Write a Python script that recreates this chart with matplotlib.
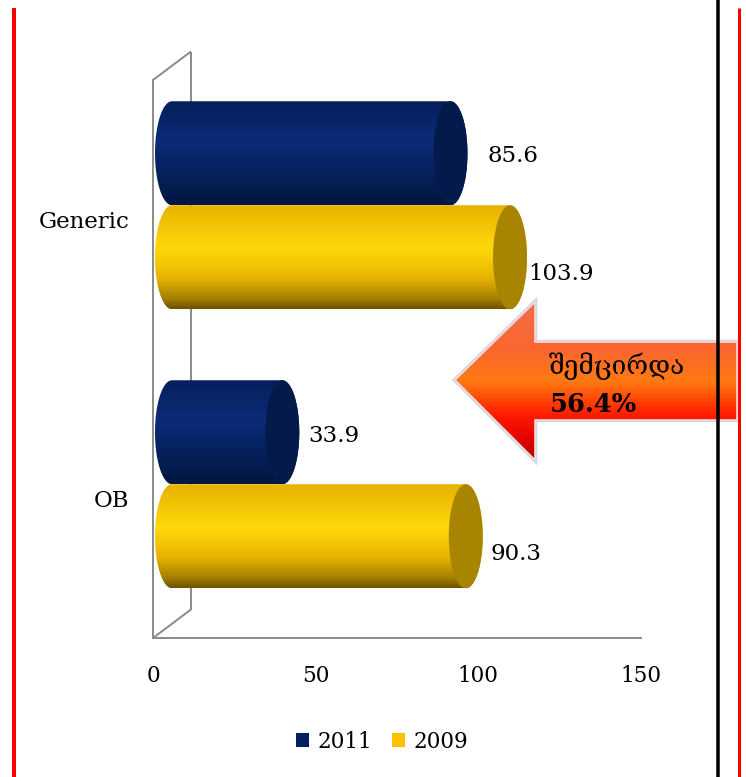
import numpy as np
import matplotlib
matplotlib.use("Agg")
import matplotlib.pyplot as plt
from matplotlib.colors import LinearSegmentedColormap
from matplotlib.patches import PathPatch, Ellipse, Polygon, Rectangle
from matplotlib.path import Path

# ---- data -------------------------------------------------------------
categories = ["OB", "Generic"]
series_names = ["2011", "2009"]
values_2011 = [33.9, 85.6]
values_2009 = [90.3, 103.9]
x_ticks = [0, 50, 100, 150]
callout_text = "შემცირდა"
callout_value = "56.4%"

# ---- styling ----------------------------------------------------------
W, H = 746, 777
plt.rcParams['font.family'] = ['DejaVu Serif', 'DejaVu Sans']
NAVY = "#002060"
GOLD = "#ffc000"
WALL = "#8a8a8a"

navy_cmap = LinearSegmentedColormap.from_list(
    "navy", [(0.0, "#061f5c"), (0.38, "#0c2c78"), (0.65, "#062360"), (1.0, "#02163f")])
gold_cmap = LinearSegmentedColormap.from_list(
    "gold", [(0.0, "#e6b200"), (0.42, "#ffd90a"), (0.7, "#e8b400"), (0.9, "#a57f00"), (1.0, "#6e5200")])
arrow_cmap = LinearSegmentedColormap.from_list(
    "arrow", [(0.0, "#f36d48"), (0.3, "#fa6630"), (0.5, "#ff7a12"), (0.72, "#ff1a00"),
              (0.88, "#e00000"), (1.0, "#a80000")])

fig = plt.figure(figsize=(W / 100, H / 100), dpi=100)

# front plane of the 3-D plot area
ax = fig.add_axes([153 / W, 1 - 638 / H, (641 - 153) / W, (638 - 80) / H])
XMAX = 150
ax.set_xlim(0, XMAX)
ax.set_ylim(-0.5, 1.5)
px_x = (641 - 153) / XMAX          # pixels per x unit
px_y = (638 - 80) / 2.0            # pixels per y unit

DEPTH_X = 38 / px_x                # depth of the 3-D box in data units
DEPTH_Y = 28.5 / px_y
BAR_H = 104 / px_y
CAP = 17 / px_x                    # half width of the cylinder end caps


def cylinder(x0, y0, length, h, cmap, cap_color, z):
    a, b = CAP, h / 2
    yc = y0 + b
    t1 = np.linspace(np.pi / 2, 3 * np.pi / 2, 80)
    left = np.column_stack([x0 + a * np.cos(t1), yc + b * np.sin(t1)])
    t2 = np.linspace(-np.pi / 2, np.pi / 2, 80)
    right = np.column_stack([x0 + length + a * np.cos(t2), yc + b * np.sin(t2)])
    verts = np.vstack([left, right, left[:1]])
    outline = PathPatch(Path(verts, closed=True), facecolor="none", edgecolor="none")
    ax.add_patch(outline)
    grad = np.linspace(0, 1, 256).reshape(-1, 1)
    im = ax.imshow(grad, cmap=cmap, aspect="auto", origin="upper",
                   extent=[x0 - a, x0 + length + a, y0, y0 + h],
                   zorder=z, interpolation="bilinear")
    im.set_clip_path(outline)
    ax.add_patch(Ellipse((x0 + length, yc), 2 * a, h, facecolor=cap_color,
                         edgecolor="none", zorder=z + 0.1))


# walls of the 3-D box
wall_kw = dict(color=WALL, lw=1.4, clip_on=False, zorder=1, solid_capstyle="butt")
ax.plot([0, DEPTH_X], [1.5, 1.5 + DEPTH_Y], **wall_kw)
ax.plot([DEPTH_X, DEPTH_X], [1.5 + DEPTH_Y, -0.5 + DEPTH_Y], **wall_kw)
ax.plot([0, DEPTH_X], [-0.5, -0.5 + DEPTH_Y], **wall_kw)

for spine in ["top", "right"]:
    ax.spines[spine].set_visible(False)
for spine in ["left", "bottom"]:
    ax.spines[spine].set_color(WALL)
    ax.spines[spine].set_linewidth(1.4)
ax.patch.set_alpha(0)

# cylinders sit halfway into the depth of the box
bx0 = DEPTH_X / 2
by = DEPTH_Y / 2
label_nudge_2011 = [(9, 4), (20, 3)]
label_nudge_2009 = [(8, 18), (1, 17)]
for i, cat in enumerate(categories):
    v1, v2 = values_2011[i], values_2009[i]
    y_top = i + by
    cylinder(bx0, y_top, v1, BAR_H, navy_cmap, "#031a4b", 3)
    cylinder(bx0, y_top - BAR_H, v2, BAR_H, gold_cmap, "#a88500", 4)
    for v, yc, (nx, ny) in [(v1, y_top + BAR_H / 2, label_nudge_2011[i]),
                            (v2, y_top - BAR_H / 2, label_nudge_2009[i])]:
        ax.annotate(f"{v:.1f}", xy=(bx0 + v + CAP, yc), xytext=(nx * 0.72, -ny * 0.72),
                    textcoords="offset points", ha="left", va="center",
                    fontsize=16.5, color="black", zorder=6, annotation_clip=False)

ax.set_xlim(0, XMAX)
ax.set_ylim(-0.5, 1.5)
ax.set_xticks(x_ticks)
ax.set_xticklabels([str(t) for t in x_ticks], fontsize=15.5)
ax.set_yticks(range(len(categories)))
ax.set_yticklabels(categories, fontsize=16.5)
ax.tick_params(axis="x", length=0, pad=19.5)
ax.tick_params(axis="y", length=0, pad=17)

# legend
handles = [Rectangle((0, 0), 1, 1, facecolor=NAVY), Rectangle((0, 0), 1, 1, facecolor=GOLD)]
fig.legend(handles, series_names, loc="center", bbox_to_anchor=(382 / W, 1 - 742 / H),
           ncol=2, frameon=False, fontsize=15.5, handlelength=0.62, handleheight=0.62,
           handletextpad=0.4, columnspacing=0.9)

# overlay in pixel coordinates for the callout arrow and the frame lines
ov = fig.add_axes([0, 0, 1, 1], zorder=5)
ov.set_xlim(0, W)
ov.set_ylim(H, 0)
ov.axis("off")
ov.patch.set_alpha(0)

arrow_pts = [(455, 380), (535, 302), (535, 342), (737, 342), (737, 420),
             (535, 420), (535, 460)]
ov.add_patch(Polygon(arrow_pts, closed=True, facecolor="none", edgecolor="#c6d9ec",
                     lw=3.2, joinstyle="miter", zorder=1))
arrow = Polygon(arrow_pts, closed=True, facecolor="none", edgecolor="none")
ov.add_patch(arrow)
im = ov.imshow(np.linspace(0, 1, 256).reshape(-1, 1), cmap=arrow_cmap, aspect="auto",
               extent=[455, 737, 460, 302], origin="upper", zorder=2,
               interpolation="bilinear")
im.set_clip_path(arrow)
ov.add_patch(Polygon(arrow_pts, closed=True, facecolor="none", edgecolor="#ffd6d0",
                     lw=1.2, joinstyle="miter", zorder=3))
ov.text(549, 366, callout_text, fontsize=19, ha="left", va="center", color="black",
        zorder=4, family=["DejaVu Serif", "DejaVu Sans"])
ov.text(550, 404, callout_value, fontsize=18.5, fontweight="bold", ha="left", va="center",
        color="black", zorder=4)

ov.plot([14, 14], [8, H], color="#ff0000", lw=4 * 0.72, zorder=6, solid_capstyle="butt")
ov.plot([717.5, 717.5], [0, H], color="black", lw=3.5 * 0.72, zorder=6, solid_capstyle="butt")
ov.plot([739, 739], [8, H], color="#ff0000", lw=3 * 0.72, zorder=6, solid_capstyle="butt")
ov.set_xlim(0, W)
ov.set_ylim(H, 0)

fig.savefig("out.png", dpi=100)
